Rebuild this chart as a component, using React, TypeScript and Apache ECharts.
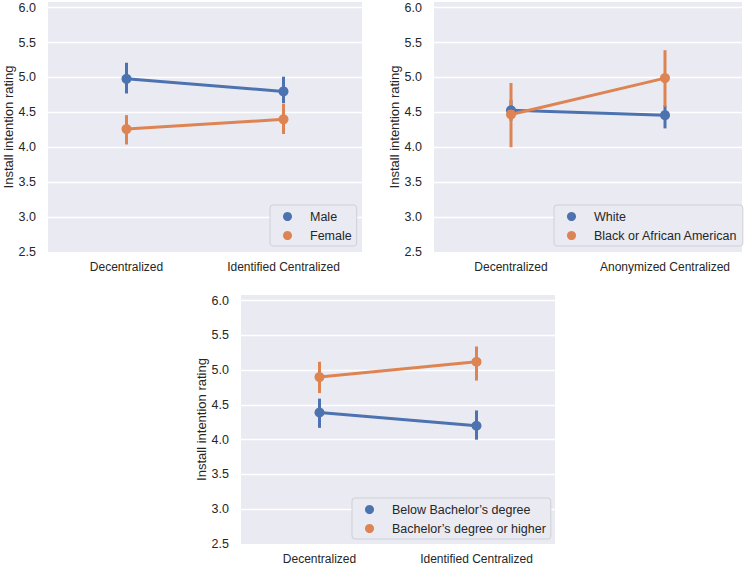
import React, { useEffect, useRef } from "react";
import * as echarts from "echarts";

const catsIdentified = ["Decentralized", "Identified Centralized"];
const catsAnonymized = ["Decentralized", "Anonymized Centralized"];

const maleMean = [4.98, 4.8];
const maleLow = [4.77, 4.63];
const maleHigh = [5.21, 5.01];
const femaleMean = [4.26, 4.4];
const femaleLow = [4.04, 4.19];
const femaleHigh = [4.46, 4.62];

const whiteMean = [4.53, 4.46];
const whiteLow = [4.38, 4.27];
const whiteHigh = [4.68, 4.6];
const blackMean = [4.47, 4.99];
const blackLow = [4.0, 4.58];
const blackHigh = [4.92, 5.39];

const belowMean = [4.39, 4.2];
const belowLow = [4.17, 4.0];
const belowHigh = [4.59, 4.42];
const bachMean = [4.9, 5.12];
const bachLow = [4.67, 4.85];
const bachHigh = [5.12, 5.34];

const yTicks = [2.5, 3.0, 3.5, 4.0, 4.5, 5.0, 5.5, 6.0];

const BLUE = "#4c72b0";
const ORANGE = "#dd8452";
const TXT = "#262626";
const FONT = "'Liberation Sans', Arial, sans-serif";

export default function App() {
  const ref = useRef<HTMLDivElement>(null);
  useEffect(() => {
    if (!ref.current) return;
    const chart = echarts.init(ref.current, null, { renderer: "svg" });

    const grids = [
      { left: 48, top: 2, width: 314, height: 250 },
      { left: 434, top: 2, width: 308, height: 250 },
      { left: 241, top: 295, width: 314, height: 249 },
    ];

    const panels = [
      { cats: catsIdentified, names: ["Male", "Female"], means: [maleMean, femaleMean], lows: [maleLow, femaleLow], highs: [maleHigh, femaleHigh], legend: { left: 270, top: 205 } },
      { cats: catsAnonymized, names: ["White", "Black or African American"], means: [whiteMean, blackMean], lows: [whiteLow, blackLow], highs: [whiteHigh, blackHigh], legend: { left: 554, top: 205 } },
      { cats: catsIdentified, names: ["Below Bachelor\u2019s degree", "Bachelor\u2019s degree or higher"], means: [belowMean, bachMean], lows: [belowLow, bachLow], highs: [belowHigh, bachHigh], legend: { left: 352, top: 498 } },
    ];

    const colors = [BLUE, ORANGE];
    const isTick = (v: number) => yTicks.some((t) => Math.abs(t - v) < 1e-6);

    const xAxis = panels.map((p, i) => ({
      type: "category",
      gridIndex: i,
      data: p.cats,
      boundaryGap: true,
      axisLine: { show: false },
      axisTick: { show: false },
      axisLabel: { color: TXT, fontSize: 12, fontFamily: FONT, margin: 9, interval: 0, hideOverlap: false },
      splitLine: { show: false },
    }));

    const yAxis = panels.map((p, i) => ({
      type: "value",
      gridIndex: i,
      min: 2.5,
      max: 6.08,
      interval: 0.5,
      name: "Install intention rating",
      nameLocation: "middle",
      nameGap: 33,
      nameTextStyle: { color: TXT, fontSize: 13, fontFamily: FONT },
      axisLine: { show: false },
      axisTick: { show: false },
      axisLabel: {
        color: TXT,
        fontSize: 12.5,
        fontFamily: FONT,
        margin: 12,
        formatter: (v: number) => (isTick(v) ? v.toFixed(1) : ""),
      },
      splitLine: { show: true, showMinLine: false, showMaxLine: false, lineStyle: { color: "#ffffff", width: 1.3 } },
    }));

    const series: any[] = [];
    panels.forEach((p, i) => {
      [0, 1].forEach((h) => {
        const color = colors[h];
        series.push({
          type: "line",
          name: p.names[h],
          xAxisIndex: i,
          yAxisIndex: i,
          data: p.means[h],
          symbol: "circle",
          symbolSize: 10,
          showSymbol: true,
          color,
          itemStyle: { color },
          lineStyle: { color, width: 3 },
          z: 2,
        });
        series.push({
          type: "custom",
          name: p.names[h] + " CI",
          xAxisIndex: i,
          yAxisIndex: i,
          data: p.cats.map((_, k) => [k, p.lows[h][k], p.highs[h][k]]),
          renderItem: (params: any, api: any) => {
            const x = api.value(0);
            const lo = api.coord([x, api.value(1)]);
            const hi = api.coord([x, api.value(2)]);
            return {
              type: "line",
              shape: { x1: lo[0], y1: lo[1], x2: hi[0], y2: hi[1] },
              style: { stroke: color, lineWidth: 3 },
            };
          },
          z: 2,
        });
      });
    });

    const legend = panels.map((p) => ({
      data: p.names,
      left: p.legend.left,
      top: p.legend.top,
      orient: "vertical",
      icon: "circle",
      itemWidth: 9,
      itemHeight: 9,
      itemGap: 6,
      padding: [5, 5, 4, 13],
      selectedMode: false,
      backgroundColor: "#eaeaf2",
      borderColor: "#cfcfd6",
      borderWidth: 1,
      borderRadius: 3,
      textStyle: { color: TXT, fontSize: 12.5, fontFamily: FONT, padding: [0, 0, 0, 13] },
    }));

    chart.setOption({
      animation: false,
      backgroundColor: "#ffffff",
      textStyle: { fontFamily: FONT },
      grid: grids.map((g) => ({ ...g, show: true, backgroundColor: "#eaeaf2", borderWidth: 0, containLabel: false })),
      xAxis,
      yAxis,
      legend,
      series,
    });

    return () => chart.dispose();
  }, []);

  return <div ref={ref} style={{ position: "fixed", left: 0, top: 0, width: 750, height: 567 }} />;
}
